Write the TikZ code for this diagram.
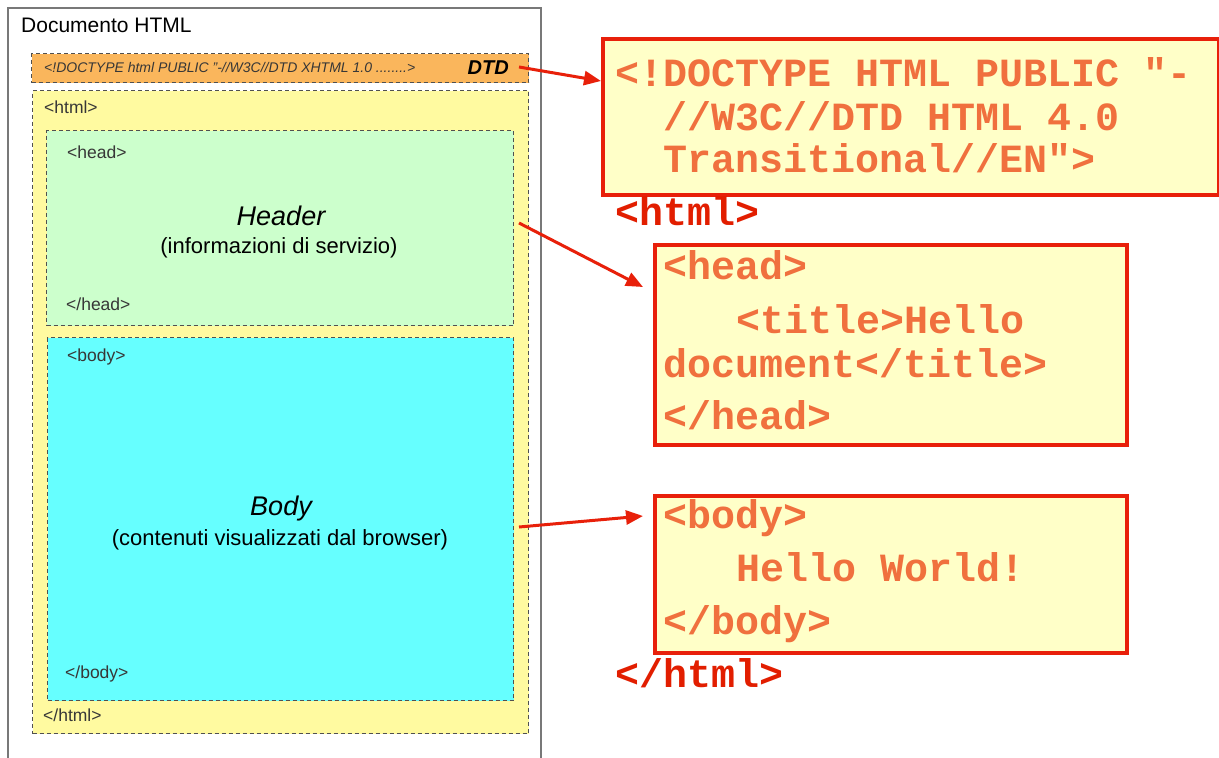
\documentclass[tikz,border=0pt]{standalone}
\usepackage{fontspec}
\setmainfont{Liberation Sans}
\newfontfamily\codefont{Liberation Mono}
\usetikzlibrary{arrows.meta}

\definecolor{framegray}{RGB}{120,120,120}
\definecolor{dashgray}{RGB}{80,80,80}
\definecolor{dtdorange}{RGB}{250,182,92}
\definecolor{htmlyellow}{RGB}{255,250,160}
\definecolor{headgreen}{RGB}{204,255,204}
\definecolor{bodycyan}{RGB}{102,255,255}
\definecolor{tagtext}{RGB}{55,55,55}
\definecolor{boxred}{RGB}{232,32,10}
\definecolor{codefill}{RGB}{255,255,200}
\definecolor{codetext}{RGB}{240,112,62}
\definecolor{tagred}{RGB}{226,30,0}

\tikzset{
  region/.style={draw=dashgray, line width=1.4pt, dash pattern=on 4pt off 3pt,
    anchor=north west, inner sep=0pt},
  smalltag/.style={anchor=base west, inner sep=0pt, text=tagtext,
    font=\fontsize{17.5}{17.5}\selectfont},
  codebox/.style={draw=boxred, line width=3.5pt, fill=codefill,
    anchor=north west, inner sep=0pt},
  codeline/.style={anchor=base west, inner sep=0pt, text=codetext,
    font=\codefont\bfseries\fontsize{40}{40}\selectfont},
  redtag/.style={anchor=base west, inner sep=0pt, text=tagred,
    font=\codefont\bfseries\fontsize{40}{40}\selectfont},
  pointer/.style={draw=boxred, line width=3pt,
    -{Triangle[length=17pt,width=14pt]}},
}

\begin{document}
\begin{tikzpicture}[x=1pt,y=-1pt]
\useasboundingbox (0,0) rectangle (1219,758);
\fill[white] (0,0) rectangle (1219,758);

% document frame (open at the bottom)
\draw[framegray, line width=1.3pt] (8,758) -- (8,8) -- (541,8) -- (541,758);
\node[anchor=base west, inner sep=0pt, font=\fontsize{21}{21}\selectfont]
  (doctitle) at (21,32) {Documento HTML};

% DTD strip
\node[region, fill=dtdorange, minimum width=497pt, minimum height=29pt]
  (dtdbar) at (31,53) {};
\node[anchor=base west, inner sep=0pt, text=tagtext,
  font=\itshape\fontsize{14}{14}\selectfont]
  (dtdcode) at (44,72) {<!DOCTYPE html PUBLIC "-//W3C//DTD XHTML 1.0 ........>};
\node[anchor=base east, inner sep=0pt,
  font=\bfseries\itshape\fontsize{20}{20}\selectfont]
  (dtd) at (509,74) {DTD};

% html region
\node[region, fill=htmlyellow, minimum width=496pt, minimum height=643pt]
  (htmlbox) at (32,90) {};
\node[smalltag] (htmlopen) at (44,113) {<html>};
\node[smalltag] (htmlclose) at (43,721) {</html>};

% head region
\node[region, fill=headgreen, minimum width=467pt, minimum height=195pt]
  (headbox) at (46,130) {};
\node[smalltag] (headopen) at (67,158) {<head>};
\node[smalltag] (headclose) at (66,310) {</head>};
\node[anchor=base, inner sep=0pt, font=\itshape\fontsize{27}{27}\selectfont]
  (headtitle) at (281,225) {Header};
\node[anchor=base, inner sep=0pt, font=\fontsize{22}{22}\selectfont]
  (headnote) at (279,253) {(informazioni di servizio)};

% body region
\node[region, fill=bodycyan, minimum width=466pt, minimum height=363pt]
  (bodybox) at (47,337) {};
\node[smalltag] (bodyopen) at (67,361) {<body>};
\node[smalltag] (bodyclose) at (65,678) {</body>};
\node[anchor=base, inner sep=0pt, font=\itshape\fontsize{27}{27}\selectfont]
  (bodytitle) at (281,515) {Body};
\node[anchor=base, inner sep=0pt, font=\fontsize{22}{22}\selectfont]
  (bodynote) at (280,545) {(contenuti visualizzati dal browser)};

% source code on the right
\node[codebox, minimum width=616pt, minimum height=156pt]
  (doctypebox) at (601,37) {};
\node[codeline] (dt1) at (615,86) {<!DOCTYPE HTML PUBLIC "-};
\node[codeline] (dt2) at (663,130) {//W3C//DTD HTML 4.0};
\node[codeline] (dt3) at (663,172) {Transitional//EN">};

\node[redtag] (rhtmlopen) at (615,225) {<html>};

\node[codebox, minimum width=472pt, minimum height=200pt]
  (headcode) at (653,243) {};
\node[codeline] (hc1) at (663,279) {<head>};
\node[codeline] (hc2) at (736,333) {<title>Hello};
\node[codeline] (hc3) at (663,377) {document</title>};
\node[codeline] (hc4) at (663,429) {</head>};

\node[codebox, minimum width=472pt, minimum height=157pt]
  (bodycode) at (653,494) {};
\node[codeline] (bc1) at (663,528) {<body>};
\node[codeline] (bc2) at (736,581) {Hello World!};
\node[codeline] (bc3) at (663,634) {</body>};

\node[redtag] (rhtmlclose) at (615,687) {</html>};

% pointers from the regions to their source
\coordinate (dtdfrom) at (519,67);
\coordinate (dtdto) at (601,81);
\coordinate (headfrom) at (519,223);
\coordinate (headto) at (643,287);
\coordinate (bodyfrom) at (519,527);
\coordinate (bodyto) at (643,516);
\draw[pointer] (dtdfrom) -- (dtdto);
\draw[pointer] (headfrom) -- (headto);
\draw[pointer] (bodyfrom) -- (bodyto);
\end{tikzpicture}
\end{document}
